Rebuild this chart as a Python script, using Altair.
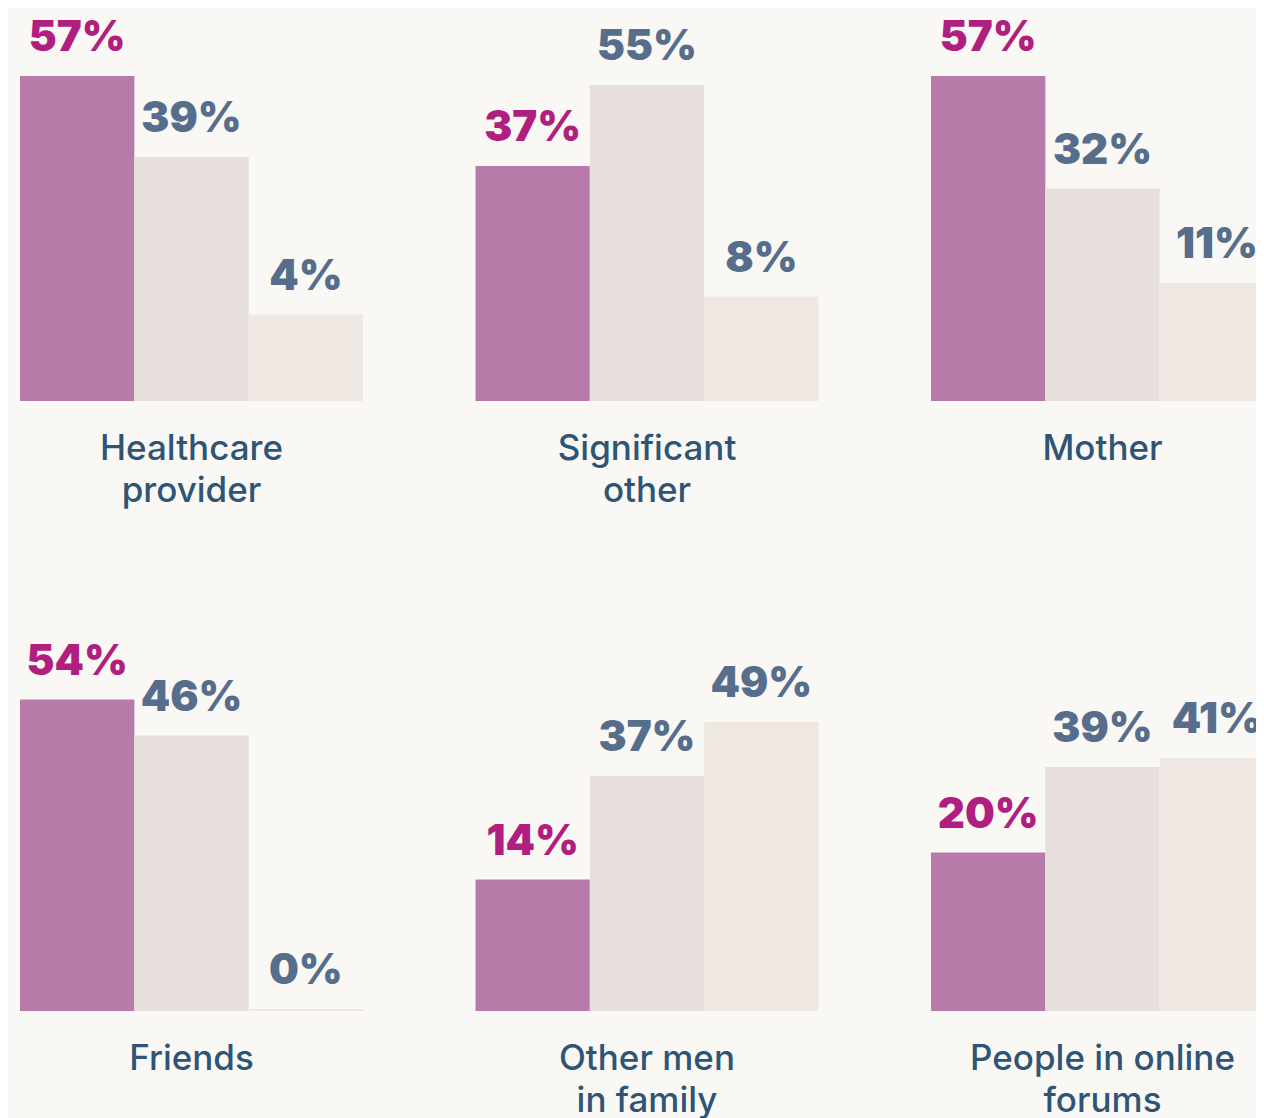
import altair as alt
import pandas as pd

categories = ["Healthcare provider", "Significant other", "Mother",
              "Friends", "Other men in family", "People in online forums"]
category_labels = ["Healthcare\nprovider", "Significant\nother", "Mother",
                   "Friends", "Other men\nin family", "People in online\nforums"]
series_names = ["A", "B", "C"]
series_a = [57, 37, 57, 54, 14, 20]
series_b = [39, 55, 32, 46, 37, 39]
series_c = [4, 8, 11, 0, 49, 41]

rows = []
for i, cat in enumerate(categories):
    for s, vals in zip(series_names, [series_a, series_b, series_c]):
        rows.append({"category": cat, "cat_label": category_labels[i],
                     "series": s, "value": vals[i]})
df = pd.DataFrame(rows)

W = 343
H = 390
BG = "#faf8f4"
bar_colors = ["#b87aa9", "#e7dfdb", "#efe7e2"]

x_enc = alt.X("series:N", scale=alt.Scale(paddingInner=0, paddingOuter=0), axis=None)
y_scale = alt.Scale(domain=[-1, 0, 1, 60], range=[H, H - 2, H - 73, H - 338.5])
y_enc = alt.Y("value:Q", scale=y_scale, axis=None)

bars = alt.Chart().mark_bar(strokeWidth=0).encode(
    x=x_enc,
    y=y_enc,
    y2=alt.datum(-1),
    color=alt.Color("series:N", scale=alt.Scale(domain=series_names, range=bar_colors), legend=None),
)

labels = alt.Chart().transform_calculate(
    label="datum.value + '%'"
).mark_text(
    font="Inter", fontSize=42, fontWeight=900, baseline="alphabetic", dy=-25, align="center"
).encode(
    x=x_enc,
    y=y_enc,
    text="label:N",
    color=alt.condition("datum.series == 'A'", alt.value("#b01f80"), alt.value("#566d8c")),
)

cat_text = alt.Chart().transform_filter("datum.series == 'A'").mark_text(
    font="Inter", fontSize=35, fontWeight=500, baseline="alphabetic", align="center",
    lineBreak="\n", lineHeight=42, color="#2e5576"
).encode(
    x=alt.value(W / 2),
    y=alt.value(H + 59),
    text="cat_label:N",
)

layer = alt.layer(bars, labels, cat_text).properties(width=W, height=H)

chart = layer.facet(
    facet=alt.Facet("category:N", sort=categories,
                    header=alt.Header(labels=False, labelExpr="''", labelFontSize=1,
                                      labelPadding=0, titlePadding=0),
                    title=None),
    columns=3,
    data=df,
    spacing={"row": 220, "column": 112.5},
    bounds="flush",
).properties(
    padding={"left": 12, "top": 2, "right": -18, "bottom": 0},
    background=BG,
).configure_view(stroke=None).configure_header(labels=False, title=None)

chart.save("out.html", embed_options={"renderer": "svg", "actions": False})
